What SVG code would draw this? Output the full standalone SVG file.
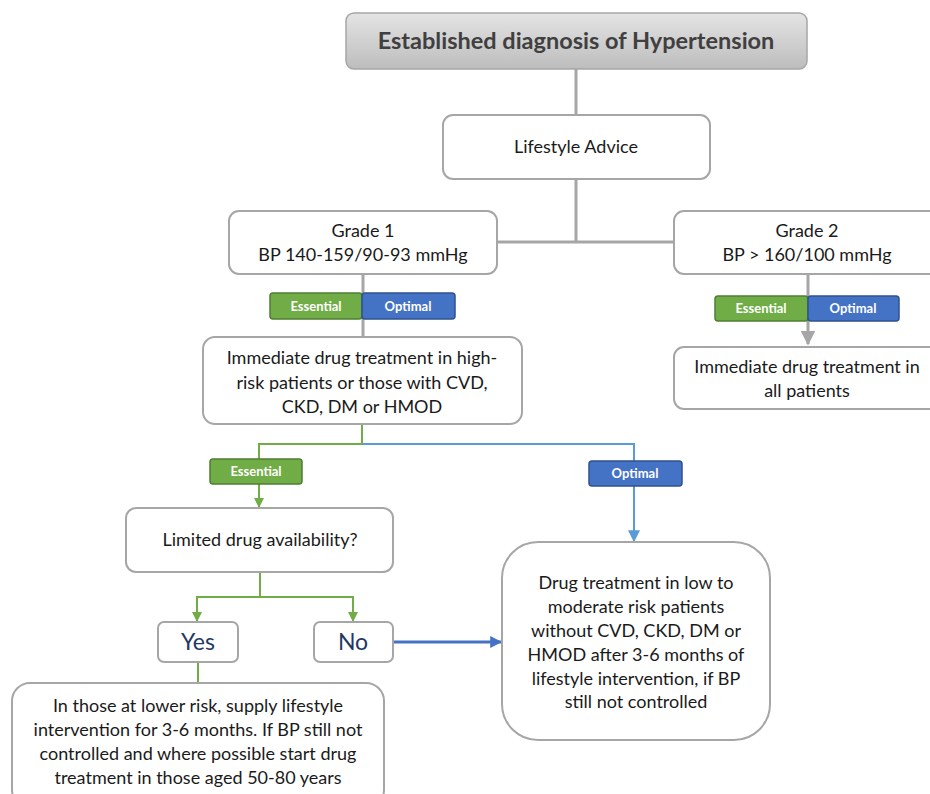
<svg xmlns="http://www.w3.org/2000/svg" width="930" height="794" viewBox="0 0 930 794">
<defs>
<linearGradient id="gTitle" x1="0" y1="0" x2="0" y2="1"><stop offset="0" stop-color="#e4e4e4"/><stop offset="1" stop-color="#bdbdbd"/></linearGradient>
<marker id="aG" viewBox="0 0 10 10" refX="9" refY="5" markerWidth="5" markerHeight="5" orient="auto" markerUnits="strokeWidth"><path d="M0,0 L10,5 L0,10 z" fill="#70ad47"/></marker>
<marker id="aB" viewBox="0 0 10 10" refX="9" refY="5" markerWidth="6" markerHeight="6" orient="auto" markerUnits="strokeWidth"><path d="M0,0 L10,5 L0,10 z" fill="#5b9bd5"/></marker>
<marker id="aB2" viewBox="0 0 10 10" refX="9" refY="5" markerWidth="4" markerHeight="4" orient="auto" markerUnits="strokeWidth"><path d="M0,0 L10,5 L0,10 z" fill="#4472c4"/></marker>
<marker id="aGr" viewBox="0 0 10 10" refX="9" refY="5" markerWidth="5" markerHeight="5" orient="auto" markerUnits="strokeWidth"><path d="M0,0 L10,5 L0,10 z" fill="#a6a6a6"/></marker>
</defs>
<style>
.box{fill:#fff;stroke:#a6a6a6;stroke-width:2}
.t{font-family:Lato,"Liberation Sans",sans-serif;font-size:18px;fill:#1a1a1a;text-anchor:middle}
.yn{font-family:Lato,"Liberation Sans",sans-serif;font-size:23px;fill:#1f3864;text-anchor:middle}
.title{font-family:Lato,"Liberation Sans",sans-serif;font-size:23.5px;font-weight:bold;fill:#404040;text-anchor:middle}
.bt{font-family:Lato,"Liberation Sans",sans-serif;font-size:13px;font-weight:bold;fill:#fff;text-anchor:middle}
.ess{fill:#70ad47;stroke:#507e32;stroke-width:1.5}
.opt{fill:#4472c4;stroke:#2f528f;stroke-width:1.5}
.gray{fill:none;stroke:#a6a6a6;stroke-width:3}
.green{fill:none;stroke:#70ad47;stroke-width:2}
.blue{fill:none;stroke:#5b9bd5;stroke-width:2}
</style>
<g id="connectors">
<path class="gray" d="M576,69 V115"/>
<path class="gray" d="M576,179 V242 M497,242 H674"/>
<path class="gray" d="M363,274 V337"/>
<path class="gray" d="M808,274 V344" marker-end="url(#aGr)" stroke-width="2"/>
<path class="green" d="M362,424 V444 H259 V507" marker-end="url(#aG)"/>
<path class="blue" d="M362,444 H634 V541" marker-end="url(#aB)"/>
<path class="green" d="M260,572 V597 H197 V621" marker-end="url(#aG)"/>
<path class="green" d="M260,597 H353 V621" marker-end="url(#aG)"/>
<path class="green" d="M198,662 V683" stroke-width="3"/>
<path d="M393,642 H501" fill="none" stroke="#4472c4" stroke-width="3" marker-end="url(#aB2)"/>
</g>
<g id="title">
<rect x="346" y="13" width="461" height="56" rx="8" fill="url(#gTitle)" stroke="#a6a6a6" stroke-width="1.5"/>
<text class="title" x="576" y="49">Established diagnosis of Hypertension</text>
</g>
<g id="lifestyle">
<rect class="box" x="443" y="115" width="267" height="64" rx="10"/>
<text class="t" x="576" y="153">Lifestyle Advice</text>
</g>
<g id="grade1">
<rect class="box" x="229" y="211" width="268" height="63" rx="10"/>
<text class="t" x="363" y="237">Grade 1</text>
<text class="t" x="363" y="261">BP 140-159/90-93 mmHg</text>
</g>
<g id="grade2">
<rect class="box" x="674" y="211" width="270" height="63" rx="10"/>
<text class="t" x="807" y="237">Grade 2</text>
<text class="t" x="807" y="261">BP &gt; 160/100 mmHg</text>
</g>
<g id="badges1">
<rect class="ess" x="270" y="293" width="92" height="26" rx="3"/>
<text class="bt" x="316" y="311">Essential</text>
<rect class="opt" x="362" y="293" width="93" height="26" rx="3"/>
<text class="bt" x="408" y="311">Optimal</text>
</g>
<g id="badges2">
<rect class="ess" x="715" y="296" width="93" height="25" rx="3"/>
<text class="bt" x="761" y="313">Essential</text>
<rect class="opt" x="808" y="296" width="91" height="25" rx="3"/>
<text class="bt" x="853" y="313">Optimal</text>
</g>
<g id="immediate1">
<rect class="box" x="203" y="337" width="319" height="87" rx="12"/>
<text class="t" x="362" y="364">Immediate drug treatment in high-</text>
<text class="t" x="362" y="389">risk patients or those with CVD,</text>
<text class="t" x="362" y="413">CKD, DM or HMOD</text>
</g>
<g id="immediate2">
<rect class="box" x="674" y="347" width="270" height="62" rx="10"/>
<text class="t" x="807" y="373">Immediate drug treatment in</text>
<text class="t" x="807" y="397">all patients</text>
</g>
<g id="badgeEss">
<rect class="ess" x="210" y="459" width="92" height="25" rx="3"/>
<text class="bt" x="256" y="476">Essential</text>
</g>
<g id="badgeOpt">
<rect class="opt" x="589" y="461" width="93" height="25" rx="3"/>
<text class="bt" x="635" y="478">Optimal</text>
</g>
<g id="limited">
<rect class="box" x="126" y="508" width="267" height="64" rx="10"/>
<text class="t" x="260" y="546">Limited drug availability?</text>
</g>
<g id="yes">
<rect class="box" x="158" y="622" width="80" height="40" rx="6"/>
<text class="yn" x="198" y="650">Yes</text>
</g>
<g id="no">
<rect class="box" x="314" y="622" width="79" height="40" rx="6"/>
<text class="yn" x="353" y="650">No</text>
</g>
<g id="drugLow">
<rect class="box" x="502" y="542" width="268" height="198" rx="36"/>
<text class="t" x="636" y="589">Drug treatment in low to</text>
<text class="t" x="636" y="613">moderate risk patients</text>
<text class="t" x="636" y="637">without CVD, CKD, DM or</text>
<text class="t" x="636" y="661">HMOD after 3-6 months of</text>
<text class="t" x="636" y="685">lifestyle intervention, if BP</text>
<text class="t" x="636" y="708">still not controlled</text>
</g>
<g id="lowerRisk">
<rect class="box" x="12" y="683" width="372" height="125" rx="18"/>
<text class="t" x="198" y="712">In those at lower risk, supply lifestyle</text>
<text class="t" x="198" y="736">intervention for 3-6 months. If BP still not</text>
<text class="t" x="198" y="760">controlled and where possible start drug</text>
<text class="t" x="198" y="784">treatment in those aged 50-80 years</text>
</g>
</svg>
